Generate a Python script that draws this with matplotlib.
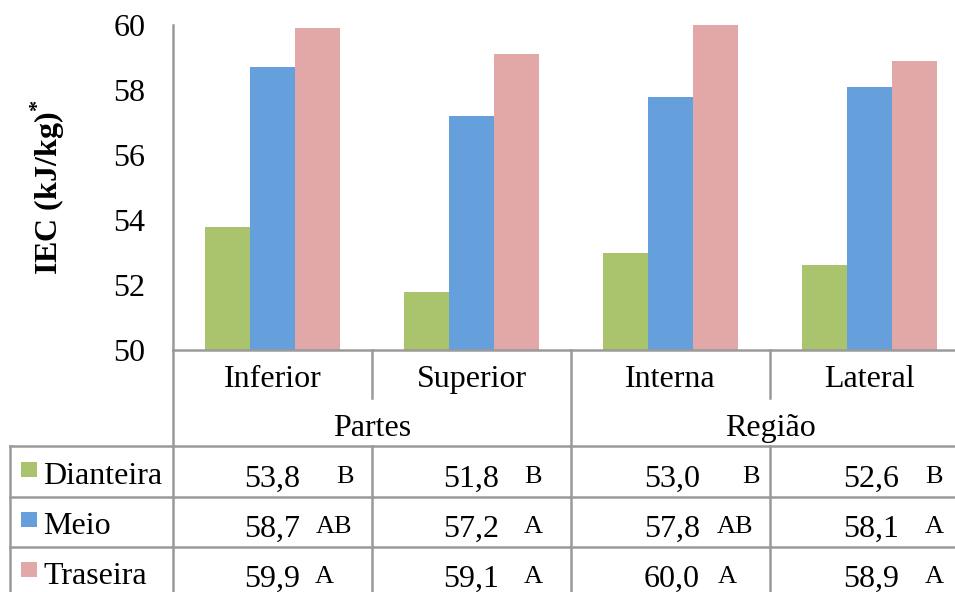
import matplotlib
matplotlib.use("Agg")
import matplotlib.pyplot as plt
from matplotlib.lines import Line2D
from matplotlib.patches import Rectangle

# ---- data ----
categories = ["Inferior", "Superior", "Interna", "Lateral"]
groups = ["Partes", "Região"]
series_names = ["Dianteira", "Meio", "Traseira"]
dianteira = [53.8, 51.8, 53.0, 52.6]
meio = [58.7, 57.2, 57.8, 58.1]
traseira = [59.9, 59.1, 60.0, 58.9]
letters_dianteira = ["B", "B", "B", "B"]
letters_meio = ["AB", "A", "AB", "A"]
letters_traseira = ["A", "A", "A", "A"]
yticks = [50, 52, 54, 56, 58, 60]

series = [dianteira, meio, traseira]
letters = [letters_dianteira, letters_meio, letters_traseira]
colors = ["#a9c46c", "#65a0dc", "#e2a8a7"]
grid_color = "#9a9a9a"

plt.rcParams["font.family"] = ["Liberation Serif", "DejaVu Serif"]
plt.rcParams["mathtext.fontset"] = "custom"
plt.rcParams["mathtext.rm"] = "Liberation Serif"
plt.rcParams["mathtext.bf"] = "Liberation Serif:bold"

W, H = 955, 592
fig = plt.figure(figsize=(W / 100, H / 100), dpi=100)

# pixel layout
ax_left, ax_top, ax_bottom = 173, 25, 350
group_w = 199
ax_right = ax_left + group_w * len(categories)
ax = fig.add_axes([ax_left / W, 1 - ax_bottom / H,
                   (ax_right - ax_left) / W, (ax_bottom - ax_top) / H])

bar_w = 0.226
for i, (vals, col) in enumerate(zip(series, colors)):
    xs = [c + (i - 1) * bar_w for c in range(len(categories))]
    ax.bar(xs, [v - 50 for v in vals], bottom=50, width=bar_w, color=col,
           edgecolor="none", zorder=2)

ax.set_xlim(-0.5, len(categories) - 0.5)
ax.set_ylim(50, 60)
ax.set_yticks(yticks)
ax.set_yticklabels([str(t) for t in yticks], fontsize=23)
ax.tick_params(axis="y", length=0, pad=20)
for lab in ax.get_yticklabels():
    lab.set_y(lab.get_position()[1])
ax.set_xticks([])
for s in ["top", "right", "bottom"]:
    ax.spines[s].set_visible(False)
ax.spines["left"].set_color(grid_color)
ax.spines["left"].set_linewidth(1.8)

# overlay in pixel coordinates for the data table
ov = fig.add_axes([0, 0, 1, 1], zorder=5)
ov.set_xlim(0, W)
ov.set_ylim(H, 0)
ov.axis("off")
ov.patch.set_alpha(0)

lw = 1.8
def hline(y, x0, x1):
    ov.add_line(Line2D([x0, x1], [y, y], color=grid_color, lw=lw))
def vline(x, y0, y1):
    ov.add_line(Line2D([x, x], [y0, y1], color=grid_color, lw=lw))

table_left = 10
row_top = 446
row_h = 50.5
col_edges = [ax_left + k * group_w for k in range(len(categories) + 1)]

hline(ax_bottom, ax_left, W)
hline(row_top, table_left, W)
for r in range(1, len(series_names)):
    hline(row_top + r * row_h, table_left, W)
vline(table_left, row_top, H)
vline(ax_left, ax_bottom, H)
for k in range(1, len(categories)):
    if k == 2:
        vline(col_edges[k], ax_bottom, H)
    else:
        vline(col_edges[k], ax_bottom, 398)
        vline(col_edges[k], row_top, H)

fs = 23
for k, cat in enumerate(categories):
    cx = (col_edges[k] + col_edges[k + 1]) / 2
    ov.text(cx, 387, cat, ha="center", va="baseline", fontsize=fs)
for g, name in enumerate(groups):
    cx = col_edges[2 * g + 1]
    ov.text(cx, 436, name, ha="center", va="baseline", fontsize=fs)

value_x = [272, 471, 672, 871]
letter_x = [[345, 533, 751, 934],
            [334, 533, 735, 934],
            [324, 533, 727, 934]]
for r, (name, vals, lets, col) in enumerate(zip(series_names, series, letters, colors)):
    base = 487 + r * 50
    ov.add_patch(Rectangle((21, base - 25), 16, 15, facecolor=col, edgecolor="none"))
    ov.text(43, base - 3, name, ha="left", va="baseline", fontsize=fs)
    for k in range(len(categories)):
        ov.text(value_x[k], base, f"{vals[k]:.1f}".replace(".", ","),
                ha="center", va="baseline", fontsize=fs)
        ov.text(letter_x[r][k], base - 4, lets[k], ha="center", va="baseline",
                fontsize=19)

fig.text(48 / W, 1 - 187 / H, r"IEC (kJ/kg)$^{\mathbf{*}}$", rotation=90,
         ha="center", va="center", fontsize=23, fontweight="bold")

fig.savefig("out.png", dpi=100)
